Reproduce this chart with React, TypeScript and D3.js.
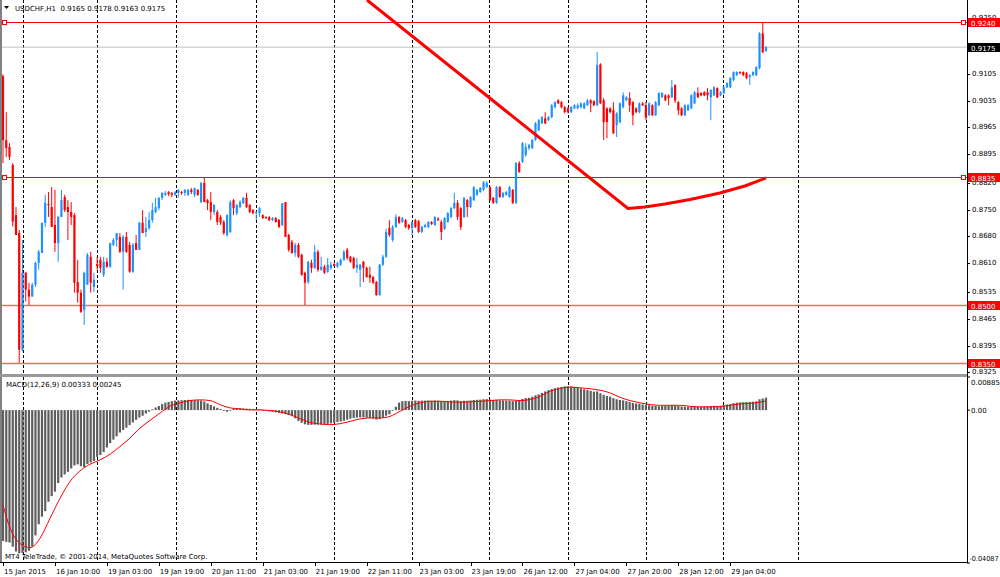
import React from "react";
import * as d3 from "d3";

// ---- price data (USDCHF H1), values in pips (x 1e-4) ----
const OPEN = [
  9099,8932,8914,8867,8736,8689,8384,8585,8541,8523,8554,8611,8637,8716,8765,8757,8710,8663,8731,8783,
  8757,8744,8736,8561,8533,8488,8554,8627,8548,8608,8619,8580,8614,8601,8658,8671,8679,8640,8679,8658,
  8588,8663,8645,8716,8692,8702,8723,8744,8754,8781,8789,8796,8794,8789,8794,8796,8794,8789,8802,8789,
  8802,8770,8820,8775,8770,8744,8744,8731,8718,8684,8692,8775,8741,8757,8767,8781,8762,8749,8741,8741,
  8736,8731,8731,8723,8728,8723,8710,8770,8684,8666,8637,8658,8632,8585,8561,8611,8598,8640,8593,8601,
  8588,8598,8608,8601,8606,8619,8645,8627,8624,8598,8593,8614,8598,8580,8574,8561,8527,8606,8627,8702,
  8671,8705,8731,8718,8723,8710,8702,8723,8720,8692,8705,8705,8718,8710,8726,8718,8700,8718,8731,8754,
  8768,8754,8731,8775,8757,8775,8789,8796,8802,8809,8809,8781,8768,8809,8783,8789,8783,8802,8768,8872,
  8875,8893,8911,8911,8932,8958,8976,8989,8984,8992,9018,9036,9031,9018,9015,9005,9015,9015,9018,9015,
  9023,9036,9034,9023,9130,9036,9015,9015,9010,8971,8979,9018,9036,9042,9031,9015,9005,9028,9023,8997,
  9023,8997,9023,9044,9049,9049,9044,9076,9031,9015,8997,9010,9015,9028,9055,9055,9057,9057,9044,9049,
  9068,9049,9055,9070,9070,9089,9102,9110,9110,9107,9097,9102,9102,9120,9211,9165
];
const HIGH = [
  9104,9005,8924,8872,8757,8697,8671,8588,8559,8559,8614,8645,8716,8789,8796,8809,8802,8734,8802,8789,
  8775,8770,8741,8619,8541,8588,8637,8640,8585,8627,8627,8627,8624,8663,8676,8689,8689,8684,8692,8666,
  8663,8684,8718,8749,8731,8744,8768,8781,8783,8796,8799,8799,8796,8799,8804,8799,8804,8804,8807,8807,
  8804,8822,8835,8778,8796,8765,8749,8736,8723,8738,8775,8778,8765,8775,8783,8794,8765,8752,8746,8757,
  8738,8733,8733,8731,8731,8726,8767,8770,8687,8671,8663,8663,8635,8588,8616,8619,8658,8645,8627,8606,
  8624,8614,8611,8614,8622,8645,8650,8629,8627,8624,8608,8616,8601,8601,8577,8564,8608,8632,8700,8723,
  8710,8738,8733,8731,8726,8713,8720,8726,8723,8708,8713,8720,8720,8733,8731,8723,8731,8744,8757,8794,
  8775,8757,8783,8778,8786,8812,8804,8809,8825,8825,8812,8783,8812,8812,8796,8799,8812,8804,8875,8877,
  8927,8924,8922,8935,8979,8987,8995,9005,8995,9026,9034,9039,9034,9021,9018,9021,9026,9028,9031,9031,
  9039,9039,9036,9162,9133,9042,9018,9018,9031,9005,9031,9057,9047,9057,9034,9018,9031,9031,9031,9031,
  9026,9034,9057,9057,9052,9052,9089,9078,9034,9018,9026,9026,9052,9060,9070,9057,9060,9068,9065,9073,
  9070,9060,9073,9083,9097,9112,9112,9112,9112,9110,9104,9112,9125,9214,9240,9178
];
const LOW = [
  8872,8888,8880,8706,8684,8350,8379,8510,8501,8523,8548,8593,8637,8705,8731,8705,8640,8614,8731,8744,
  8671,8710,8533,8507,8480,8449,8554,8533,8535,8593,8585,8574,8598,8598,8655,8653,8637,8541,8637,8585,
  8585,8645,8645,8689,8679,8697,8716,8741,8749,8775,8786,8786,8783,8786,8781,8789,8786,8786,8791,8783,
  8786,8767,8770,8749,8723,8736,8710,8710,8684,8679,8689,8736,8736,8754,8765,8754,8741,8738,8723,8731,
  8726,8726,8720,8720,8716,8702,8707,8679,8640,8635,8627,8624,8577,8501,8556,8585,8595,8588,8590,8582,
  8585,8593,8601,8598,8603,8616,8619,8611,8595,8585,8548,8561,8572,8559,8556,8525,8525,8603,8624,8679,
  8666,8702,8713,8716,8702,8697,8684,8702,8689,8689,8702,8702,8710,8708,8720,8671,8697,8716,8728,8752,
  8723,8697,8728,8731,8754,8773,8786,8794,8799,8807,8773,8765,8765,8781,8781,8786,8781,8765,8765,8846,
  8872,8888,8906,8909,8930,8955,8974,8974,8982,8989,9015,9026,9015,9002,9002,9002,9013,9013,9015,9013,
  9021,9005,9021,9021,9026,8932,8937,9002,8948,8940,8976,9015,9034,9005,8971,9002,9002,9021,8984,8995,
  8995,8995,9021,9042,9034,9023,9042,9029,8997,8995,8995,9008,9013,9026,9042,9047,9047,9036,8984,9047,
  9042,9047,9052,9068,9068,9086,9099,9104,9099,9091,9076,9099,9099,9117,9159,9163
];
const CLOSE = [
  8932,8911,8888,8719,8684,8384,8585,8541,8523,8554,8611,8640,8716,8768,8762,8705,8663,8731,8775,8749,
  8744,8731,8559,8533,8483,8585,8632,8559,8567,8603,8598,8614,8601,8663,8671,8689,8640,8679,8640,8588,
  8658,8645,8716,8689,8702,8723,8749,8757,8781,8794,8794,8791,8789,8796,8802,8794,8802,8802,8796,8807,
  8789,8820,8770,8767,8744,8762,8718,8716,8689,8736,8770,8754,8762,8770,8781,8757,8744,8741,8744,8754,
  8728,8728,8723,8728,8718,8705,8767,8679,8645,8637,8658,8627,8580,8559,8614,8598,8640,8593,8601,8585,
  8606,8606,8603,8611,8619,8640,8624,8614,8598,8606,8606,8598,8574,8572,8559,8527,8606,8627,8692,8684,
  8705,8731,8716,8728,8705,8702,8718,8705,8692,8705,8710,8718,8713,8731,8723,8692,8728,8741,8754,8768,
  8731,8705,8781,8757,8783,8809,8802,8807,8822,8820,8775,8768,8809,8783,8794,8796,8809,8768,8872,8849,
  8924,8914,8919,8932,8976,8984,8992,8976,8992,9023,9031,9028,9018,9005,9005,9018,9023,9023,9028,9028,
  9036,9028,9023,9128,9028,8979,8979,9005,8950,9002,9028,9049,9044,9023,8997,9005,9028,9023,8992,9028,
  8997,9031,9055,9055,9036,9042,9070,9036,9010,8997,9023,9023,9049,9057,9044,9049,9049,9049,9063,9070,
  9044,9057,9070,9081,9094,9110,9110,9107,9102,9094,9102,9110,9123,9211,9162,9175
];

// ---- MACD(12,26,9) main values, x 1e-5 ----
const MACD_MAIN = [
  -3500,-3520,-3540,-3650,-3780,-3830,-3820,-3800,-3760,-3650,
  -3350,-3050,-2850,-2700,-2450,-2300,-2180,-1950,-1800,-1720,
  -1650,-1560,-1480,-1450,-1500,-1520,-1440,-1400,-1360,-1250,
  -1200,-1120,-1000,-880,-790,-700,-600,-530,-470,-400,
  -330,-260,-200,-150,-90,-40,20,70,110,160,
  200,220,240,255,260,265,270,275,272,268,
  262,255,230,180,140,100,60,30,-10,-45,
  -20,30,45,50,45,40,35,30,25,20,
  5,-20,-35,-45,-60,-75,-90,-110,-130,-160,
  -220,-290,-340,-380,-395,-395,-390,-385,-380,-375,
  -370,-355,-340,-320,-305,-285,-255,-230,-210,-200,
  -195,-195,-205,-210,-230,-255,-240,-200,-150,-110,
  -20,90,200,240,245,240,250,255,250,255,
  255,255,250,255,250,240,240,245,255,265,
  260,245,250,250,258,270,275,280,290,295,
  285,270,270,262,258,255,255,240,250,270,
  300,320,330,360,395,420,460,500,535,560,
  585,605,620,635,640,635,620,600,580,555,
  535,515,495,500,450,410,380,360,320,290,
  270,260,240,215,190,175,165,150,135,130,
  115,110,105,110,115,120,130,125,110,95,
  90,88,90,95,92,90,95,100,110,115,
  112,118,130,150,165,185,200,205,210,215,
  220,225,235,290,310,333
];
// signal line, read at these bar positions
const SIG_BAR = [
  0,2.2,5.2,8.3,11.4,14.5,17.6,20.6,23.7,26.8,29.9,33,36,39.1,42.2,45.3,48.4,51.4,54.5,57.6,
  60.7,63.8,66.8,69.9,73,76.1,79.2,82.2,85.3,88.4,91.5,94.5,97.6,100.7,103.8,106.9,109.9,113,116.1,119.2,
  122.3,125.3,128.4,131.5,134.6,137.7,140.7,143.8,146.9,150,153.1,156.1,159.2,162.3,165.4,168.5,171.5,174.6,177.7,180.8,
  183.9,186.9,190,193.1,196.2,199.3,202.3,205.4,208.5,211.6,214.7,217.7,220.8,223.9,227,230.1,233.1,235
];
const SIG_VAL = [
  -2540,-3158,-3562,-3677,-3427,-2890,-2352,-1914,-1626,-1446,-1331,-1177,-973,-747,-478,-274,-75,102,194,255,
  274,255,148,59,32,5,5,-13,-48,-121,-228,-328,-371,-390,-363,-301,-237,-210,-210,-167,
  -32,102,194,237,237,220,210,220,237,255,274,274,255,282,371,505,578,613,597,570,
  532,462,344,255,194,148,129,129,129,102,86,86,94,129,167,183,210,245
];

// ---- axes / annotations ----
const TIME_LABELS = [
  "15 Jan 2015","16 Jan 10:00","19 Jan 03:00","19 Jan 19:00","20 Jan 11:00","21 Jan 03:00","21 Jan 19:00",
  "22 Jan 11:00","23 Jan 03:00","23 Jan 19:00","26 Jan 12:00","27 Jan 04:00","27 Jan 20:00","28 Jan 12:00","29 Jan 04:00"
];
const TIME_LABEL_BARS = [0,16,32,48,64,80,96,112,128,144,160,176,192,208,224];
const GRID_BARS = [6.3,29.1,53.4,77.8,101.8,126.1,149.7,173.9,198,221.9,244.8];
// tick labels visible on the price scale (0.9250 and 0.8820 are partly covered by line labels)
const PRICE_TICKS = [0.9250,0.9105,0.9035,0.8965,0.8895,0.8820,0.8750,0.8680,0.8610,0.8535,0.8465,0.8395,0.8325];
const H_LINES = [0.9240,0.8835,0.8500,0.8350];
const H_LINES_MARKED = [0.9240,0.8835];
const CURRENT_PRICE = 0.9175;
const TREND_BARS = [112.1,192.5,197.7,203.9,211.6,220.8,228.5,235];
const TREND_PRICES = [0.92983,0.87532,0.87571,0.87650,0.87767,0.87937,0.88120,0.88330];
const MACD_TICKS = [0.00885,0.0,-0.04087];
const MACD_TICK_LABELS = ["0.00885","0.00","-0.04087"];

const BULL = "#1E90FF";
const BEAR = "#FF0000";
const FONT = "'DejaVu Sans', Verdana, sans-serif";

export default function App() {
  const RIGHT = 967;
  const MAIN_BOTTOM = 374;
  const MACD_TOP = 377;
  const MACD_BOTTOM = 562;

  const x = d3.scaleLinear().domain([0, 235]).range([3, 766]);
  const y = d3.scaleLinear().domain([0.83205, 0.92983]).range([MAIN_BOTTOM, 0]);
  const ym = d3.scaleLinear().domain([-0.04087, 0.00885]).range([563, MACD_TOP]);

  const candles = OPEN.map((o, i) => ({
    i, o: o / 1e4, h: HIGH[i] / 1e4, l: LOW[i] / 1e4, c: CLOSE[i] / 1e4,
  }));

  const sig = SIG_BAR.map((b, k) => [b, SIG_VAL[k] / 1e5] as [number, number]);
  const sigLine = d3.line<[number, number]>()
    .x((d) => x(d[0]))
    .y((d) => ym(d[1]))
    .curve(d3.curveMonotoneX);

  const trend = TREND_BARS.map((b, k) => [b, TREND_PRICES[k]] as [number, number]);
  const trendLine = d3.line<[number, number]>().x((d) => x(d[0])).y((d) => y(d[1]));

  const fmt = d3.format(".4f");

  return (
    <svg width={1000} height={577} style={{ position: "absolute", left: 0, top: 0, background: "#fff" }}
      fontFamily={FONT} fontSize={7}>
      <defs>
        <clipPath id="mainClip"><rect x={2} y={0} width={RIGHT - 2} height={MAIN_BOTTOM} /></clipPath>
        <clipPath id="macdClip"><rect x={2} y={MACD_TOP} width={RIGHT - 2} height={MACD_BOTTOM - MACD_TOP} /></clipPath>
      </defs>
      <rect x={0} y={0} width={1000} height={577} fill="#fff" />

      {/* vertical dashed grid */}
      {GRID_BARS.map((b, k) => (
        <g key={"g" + k}>
          <line x1={Math.round(x(b)) + 0.5} x2={Math.round(x(b)) + 0.5} y1={0} y2={MAIN_BOTTOM}
            stroke="#000" strokeWidth={1} strokeDasharray="3,2" />
          <line x1={Math.round(x(b)) + 0.5} x2={Math.round(x(b)) + 0.5} y1={MACD_TOP} y2={MACD_BOTTOM}
            stroke="#000" strokeWidth={1} strokeDasharray="3,2" />
        </g>
      ))}

      {/* main window */}
      <g clipPath="url(#mainClip)">
        <line x1={0} x2={RIGHT} y1={y(CURRENT_PRICE)} y2={y(CURRENT_PRICE)} stroke="#C0C0C0" strokeWidth={1} />
        {H_LINES.map((p, k) => (
          <line key={"h" + k} x1={0} x2={RIGHT} y1={Math.round(y(p)) + 0.5} y2={Math.round(y(p)) + 0.5}
            stroke={BEAR} strokeWidth={k < 2 ? 1 : 1.4} strokeOpacity={k < 2 ? 1 : 0.6} />
        ))}
        {candles.map((d) => {
          const col = d.c >= d.o ? BULL : BEAR;
          const top = y(Math.max(d.o, d.c));
          const bot = y(Math.min(d.o, d.c));
          return (
            <g key={"c" + d.i}>
              <line x1={x(d.i)} x2={x(d.i)} y1={y(d.h)} y2={y(d.l)} stroke={col} strokeWidth={1} />
              <rect x={x(d.i) - 1.1} y={top} width={2.2} height={Math.max(1, bot - top)} fill={col} />
            </g>
          );
        })}
        <path d={trendLine(trend) || ""} fill="none" stroke={BEAR} strokeWidth={3} strokeLinejoin="round" />
        {H_LINES_MARKED.map((p, k) => (
          <g key={"m" + k}>
            <rect x={2.5} y={Math.round(y(p)) - 1.5} width={4} height={4} fill="#fff" stroke={BEAR} strokeWidth={1} />
            <rect x={RIGHT - 5.5} y={Math.round(y(p)) - 1.5} width={4} height={4} fill="#fff" stroke={BEAR} strokeWidth={1} />
          </g>
        ))}
      </g>

      {/* MACD window */}
      <g clipPath="url(#macdClip)">
        {MACD_MAIN.map((v, i) => {
          const val = v / 1e5;
          const y0 = ym(0), y1 = ym(val);
          return (
            <rect key={"mh" + i} x={x(i) - 1.1} width={2.2} y={Math.min(y0, y1)} height={Math.max(0.8, Math.abs(y1 - y0))}
              fill="#5e5e5e" />
          );
        })}
        <path d={sigLine(sig) || ""} fill="none" stroke={BEAR} strokeWidth={1} />
      </g>

      {/* frames */}
      <line x1={1} x2={1} y1={0} y2={MACD_BOTTOM} stroke="#808080" strokeWidth={2} />
      <rect x={0} y={MAIN_BOTTOM} width={RIGHT} height={3} fill="#9a9a9a" />
      <line x1={0} x2={RIGHT + 0.5} y1={MACD_BOTTOM + 0.5} y2={MACD_BOTTOM + 0.5} stroke="#000" strokeWidth={1} />
      <line x1={RIGHT + 0.5} x2={RIGHT + 0.5} y1={0} y2={MACD_BOTTOM + 1} stroke="#000" strokeWidth={1} />

      {/* price axis ticks */}
      {PRICE_TICKS.map((p, k) => (
        <g key={"pt" + k}>
          <line x1={RIGHT} x2={RIGHT + 3} y1={Math.round(y(p)) + 0.5} y2={Math.round(y(p)) + 0.5} stroke="#000" />
          <text x={972} y={y(p) + 2} fill="#000">{fmt(p)}</text>
        </g>
      ))}
      {H_LINES.map((p, k) => (
        <g key={"hl" + k}>
          <rect x={968} y={Math.round(y(p)) - 4} width={32} height={9} fill={BEAR} />
          <text x={971} y={Math.round(y(p)) + 3.5} fill="#fff">{fmt(p)}</text>
        </g>
      ))}
      <rect x={968} y={Math.round(y(CURRENT_PRICE)) - 4} width={32} height={9} fill="#000" />
      <text x={971} y={Math.round(y(CURRENT_PRICE)) + 3.5} fill="#fff">{fmt(CURRENT_PRICE)}</text>

      {/* MACD axis */}
      {MACD_TICKS.map((v, k) => (
        <g key={"mt" + k}>
          <line x1={RIGHT} x2={RIGHT + 3} y1={ym(v)} y2={ym(v)} stroke="#000" />
          {k === 2 ? (
            <text x={969.5} y={ym(v) - 2.5} fill="#000" textLength={29} lengthAdjust="spacingAndGlyphs">{MACD_TICK_LABELS[k]}</text>
          ) : (
            <text x={971} y={k === 0 ? ym(v) + 8 : ym(v) + 3} fill="#000">{MACD_TICK_LABELS[k]}</text>
          )}
        </g>
      ))}

      {/* time axis */}
      {TIME_LABEL_BARS.map((b, k) => (
        <g key={"tl" + k}>
          <line x1={Math.round(x(b)) + 0.5} x2={Math.round(x(b)) + 0.5} y1={MACD_BOTTOM} y2={MACD_BOTTOM + 4} stroke="#000" />
          <text x={x(b) + 1} y={573.5} fill="#000">{TIME_LABELS[k]}</text>
        </g>
      ))}

      {/* titles */}
      <path d="M4,6 L9,6 L6.5,9 Z" fill="#000" />
      <text x={15} y={10.5} fill="#000" style={{ whiteSpace: "pre" }}>{"USDCHF,H1  0.9165 0.9178 0.9163 0.9175"}</text>
      <text x={6} y={386.5} fill="#000">{"MACD(12,26,9) 0.00333 0.00245"}</text>
      <text x={5} y={558.5} fill="#000">{"MT4 TeleTrade, \u00A9 2001-2014, MetaQuotes Software Corp."}</text>
    </svg>
  );
}
